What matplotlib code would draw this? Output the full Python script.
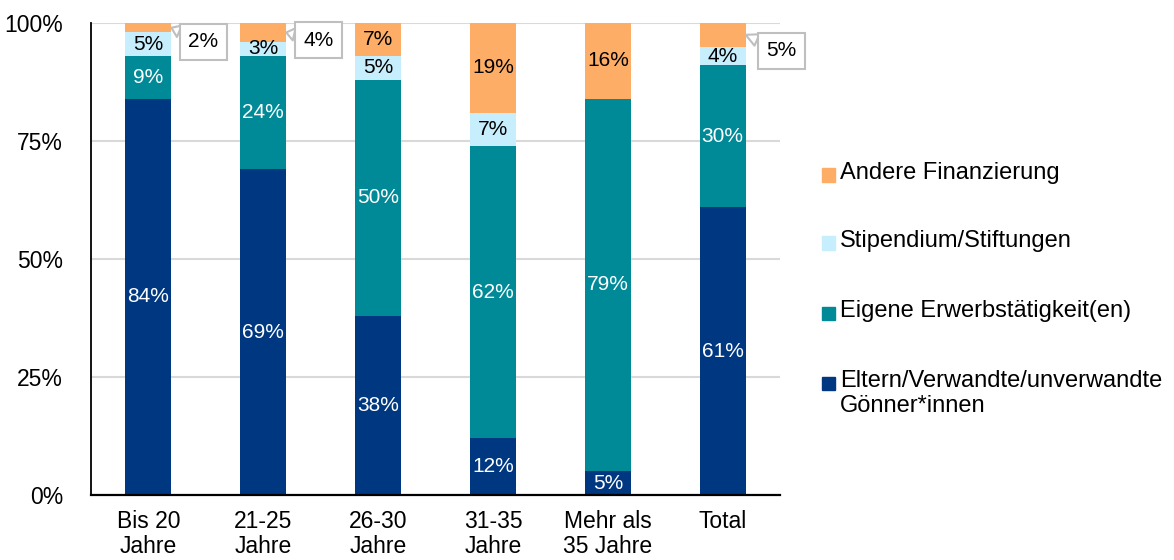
import numpy as np
import matplotlib
matplotlib.use("Agg")
from matplotlib import pyplot as plt
from matplotlib.patches import Rectangle

plt.rcParams['font.family'] = ['Liberation Sans', 'DejaVu Sans']

categories = ["Bis 20\nJahre", "21-25\nJahre", "26-30\nJahre", "31-35\nJahre", "Mehr als\n35 Jahre", "Total"]
eltern = [84, 69, 38, 12, 5, 61]
erwerb = [9, 24, 50, 62, 79, 30]
stipendium = [5, 3, 5, 7, 0, 4]
andere = [2, 4, 7, 19, 16, 5]
series_names = ["Eltern/Verwandte/unverwandte\nGönner*innen", "Eigene Erwerbstätigkeit(en)",
                "Stipendium/Stiftungen", "Andere Finanzierung"]
colors = ["#003781", "#008A98", "#C6EEFC", "#FDAD65"]
text_colors = ["white", "white", "black", "black"]
# small segments shown as callouts instead of inside the bar
callouts = {(0, 3): (0.48, 96.0), (1, 3): (1.48, 96.4), (5, 3): (5.51, 94.1)}

fig = plt.figure(figsize=(11.74, 5.6), dpi=100)
ax = fig.add_axes([0.0775, 0.1161, 0.587, 0.8428])

x = np.arange(len(categories))
data = [eltern, erwerb, stipendium, andere]
bottom = np.zeros(len(categories))
width = 0.4
for k, vals in enumerate(data):
    vals = np.array(vals, dtype=float)
    bars = ax.bar(x, vals, width, bottom=bottom, color=colors[k], zorder=2)
    labels = []
    for i, v in enumerate(vals):
        if v == 0 or (i, k) in callouts:
            labels.append("")
        else:
            labels.append(f"{int(v)}%")
    ax.bar_label(bars, labels=labels, label_type='center', color=text_colors[k], fontsize=15)
    for i, v in enumerate(vals):
        if (i, k) in callouts:
            ax.annotate(f"{int(v)}%", xy=(x[i] + width / 2, bottom[i] + v / 2),
                        xytext=callouts[(i, k)], ha='center', va='center', fontsize=15,
                        bbox=dict(boxstyle='square,pad=0.4', fc='white', ec='#BFBFBF', lw=1.5),
                        arrowprops=dict(arrowstyle='wedge,tail_width=0.6', fc='white',
                                        ec='#BFBFBF', lw=1.5, shrinkA=0, shrinkB=0),
                        zorder=5)
    bottom += vals

ax.set_xlim(-0.5, 5.5)
ax.set_ylim(0, 100)
ax.set_yticks([0, 25, 50, 75, 100])
ax.set_yticklabels(["0%", "25%", "50%", "75%", "100%"])
ax.set_xticks(x)
ax.set_xticklabels(categories, linespacing=1.1)
ax.tick_params(axis='both', length=0, labelsize=16.5)
ax.tick_params(axis='y', pad=20)
ax.tick_params(axis='x', pad=11)
ax.yaxis.grid(True, color='#D9D9D9', lw=1.5, zorder=0)
ax.set_axisbelow(True)
for s in ['top', 'right']:
    ax.spines[s].set_visible(False)
ax.spines['left'].set_color('black')
ax.spines['bottom'].set_color('black')
ax.spines['left'].set_linewidth(1.3)
ax.spines['bottom'].set_linewidth(1.6)

# legend, top entry first
legend_y = [175, 243, 313, 383]
for j, k in enumerate([3, 2, 1, 0]):
    yf = 1 - legend_y[j] / 560
    fig.patches.append(Rectangle((822 / 1174, yf - 6.5 / 560), 13 / 1174, 13 / 560,
                                 transform=fig.transFigure, color=colors[k]))
    fig.text(840 / 1174, yf + 13 / 560, series_names[k], fontsize=17, va='top', ha='left',
             linespacing=1.2)

fig.savefig("out.png", dpi=100)
